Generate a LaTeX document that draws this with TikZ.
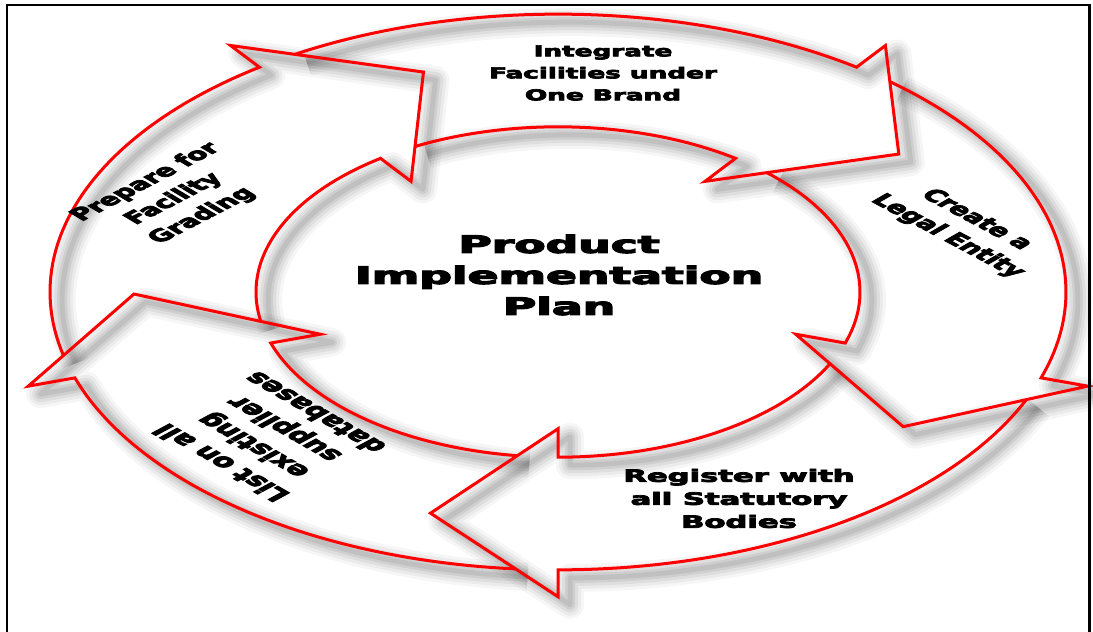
\documentclass[tikz,border=0pt]{standalone}
\usepackage{fontspec}
\newfontfamily\lblfont{DejaVu Sans}[BoldFeatures={FakeBold=4.2}]
\definecolor{ringred}{RGB}{255,0,0}
\tikzset{
  lbl/.style={font=\lblfont\bfseries, align=center, inner sep=0pt, transform shape},
  redline/.style={draw=ringred, line width=3pt, line join=miter, miter limit=20},
}
\begin{document}
\begin{tikzpicture}[x=1pt,y=-1pt]
\useasboundingbox (0,0) rectangle (1093,632);
\fill[white] (0,0) rectangle (1093,632);

% soft shadows of the ring outlines
\begin{scope}[shift={(12,8)}]
\begin{scope}[shift={(558,292)}, yscale=0.547]
\foreach \h in {-126,-54,18,90,162} {
  \pgfmathsetmacro\a{\h-72+4.79}
  \pgfmathsetmacro\b{\h-72+7.74}
  \pgfmathsetmacro\tp{\h+17.5}
  \foreach \w/\o in {28/0.035,22/0.045,16/0.055,10/0.065,5/0.07} {
    \draw[black, opacity=\o, line width=\w pt, line join=round]
      plot[domain=\a:\h, samples=50, variable=\t] ({508*cos(\t)},{508*sin(\t)})
      -- (\h:557) -- (\tp:424) -- (\h:250) -- (\h:302)
      -- plot[domain=\h:\b, samples=50, variable=\t] ({302*cos(\t)},{302*sin(\t)});
  }
}
\end{scope}
\end{scope}

% the five arrows
\begin{scope}[shift={(558,292)}, yscale=0.547]
\foreach \h in {-126,-54,18,90,162} {
  \pgfmathsetmacro\a{\h-72+4.79}
  \pgfmathsetmacro\b{\h-72+7.74}
  \pgfmathsetmacro\tp{\h+17.5}
  \draw[redline]
    plot[domain=\a:\h, samples=50, variable=\t] ({508*cos(\t)},{508*sin(\t)})
    -- (\h:557) -- (\tp:424) -- (\h:250) -- (\h:302)
    -- plot[domain=\h:\b, samples=50, variable=\t] ({302*cos(\t)},{302*sin(\t)});
}
\end{scope}

% labels
\begin{scope}[shift={(559,275)}]
\node[lbl, font={\lblfont\bfseries\fontsize{24}{31}\selectfont}, xscale=1.9] (center) at (0,0) {Product\\Implementation\\Plan};
\end{scope}
\begin{scope}[shift={(603,73)}]
\node[lbl, font={\lblfont\bfseries\fontsize{15}{22}\selectfont}, xscale=1.75] (integrate) at (0,0) {Integrate\\Facilities under\\One Brand};
\end{scope}
\begin{scope}[shift={(962,228)}]
\node[lbl, font={\lblfont\bfseries\fontsize{16.5}{23}\selectfont}, xscale=1.8, rotate=-44] (create) at (0,0) {Create a\\Legal Entity};
\end{scope}
\begin{scope}[shift={(739,498.5)}]
\node[lbl, font={\lblfont\bfseries\fontsize{17}{23}\selectfont}, xscale=1.8] (register) at (0,0) {Register with\\all Statutory\\Bodies};
\end{scope}
\begin{scope}[shift={(267.5,438)}]
\node[lbl, font={\lblfont\bfseries\fontsize{18}{24}\selectfont}, xscale=1.8, rotate=134] (list) at (0,0) {List on all\\existing\\supplier\\databases};
\end{scope}
\begin{scope}[shift={(174,199)}]
\node[lbl, font={\lblfont\bfseries\fontsize{16.5}{23}\selectfont}, xscale=1.8, rotate=43] (prepare) at (0,0) {Prepare for\\Facility\\Grading};
\end{scope}

% frame
\draw[line width=2.5pt] (7,632) -- (7,5) -- (1089.5,5) -- (1089.5,632);
\end{tikzpicture}
\end{document}
